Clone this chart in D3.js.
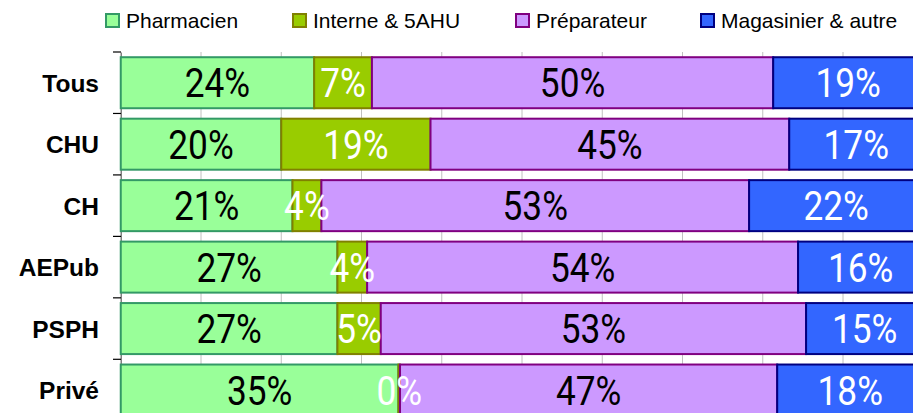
<!DOCTYPE html>
<html><head><meta charset="utf-8">
<script src="https://cdn.jsdelivr.net/npm/d3@7/dist/d3.min.js"></script>
<style>body{margin:0;background:#fff}svg{display:block}</style>
</head><body><svg id="c" width="913" height="413"></svg>
<script>
const categories = ["Tous","CHU","CH","AEPub","PSPH","Privé"];
const seriesNames = ["Pharmacien","Interne & 5AHU","Préparateur","Magasinier & autre"];
const pharmacien = [0.241,0.200,0.214,0.270,0.270,0.346];
const interne    = [0.072,0.186,0.036,0.037,0.054,0.002];
const preparateur= [0.500,0.447,0.533,0.537,0.530,0.470];
const magasinier = [0.187,0.167,0.217,0.156,0.146,0.182];
const xTicks = [0.1,0.2,0.3,0.4,0.5,0.6,0.7,0.8,0.9,1.0];

const fills   = ["#99FF99","#99CC00","#CC99FF","#3366FF"];
const strokes = ["#339966","#808000","#800080","#000080"];
const txtCol  = ["#000","#fff","#000","#fff"];

const svg = d3.select("#c");
const x = d3.scaleLinear().domain([0,1]).range([120.75,923.25]);
const y = d3.scaleBand().domain(categories).range([52,52+6*61.46]).paddingInner(0.17).paddingOuter(0.085);
const yAxisBand = d3.scaleBand().domain(categories).range([52,52+6*61.46]);

// gridlines
svg.append("g").selectAll("line").data(xTicks).join("line")
  .attr("x1",d=>x(d)).attr("x2",d=>x(d)).attr("y1",52).attr("y2",421)
  .attr("stroke","#c0c0c0").attr("stroke-width",1);

// axis
const ax = svg.append("g").attr("transform","translate(120.75,0)")
  .call(d3.axisLeft(yAxisBand).tickSize(0).tickFormat(""));
ax.select(".domain").attr("stroke","#808080").attr("stroke-width",1.5);
svg.append("g").selectAll("line").data(d3.range(7)).join("line")
  .attr("x1",113).attr("x2",121).attr("y1",d=>52+d*61.46).attr("y2",d=>52+d*61.46)
  .attr("stroke","#000").attr("stroke-width",1.2);

const series = [pharmacien,interne,preparateur,magasinier];
const rows = categories.map((c,i)=>({cat:c, vals:series.map(s=>s[i])}));
const stack = d3.stack().keys([0,1,2,3]).value((d,k)=>d.vals[k])(rows);

stack.forEach((layer,k)=>{
  const g = svg.append("g");
  g.selectAll("rect").data(layer).join("rect")
    .attr("x",d=>x(d[0])).attr("width",d=>x(d[1])-x(d[0]))
    .attr("y",d=>y(d.data.cat)).attr("height",y.bandwidth())
    .attr("fill",fills[k]).attr("stroke",strokes[k]).attr("stroke-width",2);
});
stack.forEach((layer,k)=>{
  const g = svg.append("g");
  g.selectAll("text").data(layer).join("text")
    .attr("transform",d=>`translate(${(x(d[0])+x(d[1]))/2},${y(d.data.cat)+y.bandwidth()/2+14.5}) scale(0.86,1)`)
    .attr("text-anchor","middle")
    .attr("font-family","Roboto, 'Liberation Sans', sans-serif")
    .attr("font-size",41)
    .attr("fill",txtCol[k])
    .text((d,i)=>d3.format(".0%")(series[k][i]));
});

// category labels
svg.append("g").selectAll("text").data(categories).join("text")
  .attr("x",99).attr("y",d=>y(d)+y.bandwidth()/2+9)
  .attr("text-anchor","end")
  .attr("font-family","'Liberation Sans', Arial, sans-serif")
  .attr("font-weight","bold").attr("font-size",24.5).attr("fill","#000")
  .text(d=>d);

// legend
const legX = [106,293,516,701];
const lg = svg.append("g").selectAll("g").data(seriesNames).join("g")
  .attr("transform",(d,i)=>`translate(${legX[i]},14)`);
lg.append("rect").attr("width",13).attr("height",13)
  .attr("fill",(d,i)=>fills[i]).attr("stroke",(d,i)=>strokes[i]).attr("stroke-width",2);
lg.append("text").attr("x",20).attr("y",14)
  .attr("font-family","'Liberation Sans', Arial, sans-serif").attr("font-size",21).attr("fill","#000")
  .text(d=>d);
</script></body></html>
